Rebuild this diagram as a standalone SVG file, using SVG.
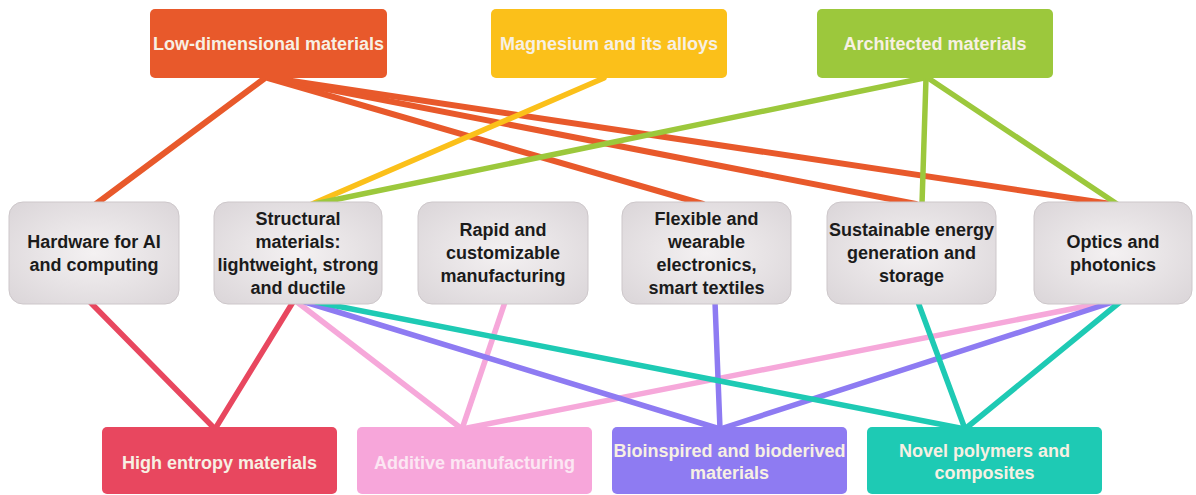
<svg xmlns="http://www.w3.org/2000/svg" width="1196" height="495" viewBox="0 0 1196 495">
  <defs>
    <radialGradient id="midFill" cx="50%" cy="50%" r="65%">
      <stop offset="0" stop-color="#f4f1f2"/>
      <stop offset="1" stop-color="#dcd7da"/>
    </radialGradient>
    <style>
      .link { fill: none; stroke-width: 5.5; stroke-linecap: round; }
      .orange { stroke: #e8592b; stroke-width: 6; }
      .yellow { stroke: #fbc01a; }
      .green { stroke: #9cc83c; }
      .red { stroke: #e8475f; }
      .pink { stroke: #f6a8da; }
      .purple { stroke: #8e7bf2; }
      .teal { stroke: #1ecab4; }
      .cat rect { rx: 5; ry: 5; }
      .cat text { font-family: "Liberation Sans", Arial, sans-serif; font-weight: bold; font-size: 18px; fill: #f7f0e3; text-anchor: middle; }
      .mid rect { rx: 14; ry: 14; fill: url(#midFill); stroke: #cdc7ca; stroke-width: 1; }
      .mid text { font-family: "Liberation Sans", Arial, sans-serif; font-weight: bold; font-size: 18px; fill: #1b1b1b; text-anchor: middle; }
    </style>
  </defs>

  <rect width="1196" height="495" fill="#ffffff"/>

  <!-- connectors, drawn beneath the boxes -->
  <g id="connectors">
    <!-- from Low-dimensional materials -->
    <line class="link orange" x1="265" y1="78" x2="96" y2="204"/>
    <line class="link orange" x1="268" y1="78" x2="703" y2="204"/>
    <line class="link orange" x1="270" y1="78" x2="916" y2="204"/>
    <line class="link orange" x1="272" y1="78" x2="1111" y2="204"/>
    <!-- from Magnesium and its alloys -->
    <line class="link yellow" x1="604" y1="78" x2="312" y2="204"/>
    <!-- from Architected materials -->
    <line class="link green" x1="924" y1="78" x2="314" y2="204"/>
    <line class="link green" x1="926" y1="78" x2="922" y2="204"/>
    <line class="link green" x1="928" y1="78" x2="1117" y2="204"/>
    <!-- down to High entropy materials -->
    <line class="link red" x1="90" y1="302" x2="215" y2="429"/>
    <line class="link red" x1="293" y1="302" x2="215" y2="429"/>
    <!-- down to Additive manufacturing -->
    <line class="link pink" x1="297" y1="302" x2="462" y2="429"/>
    <line class="link pink" x1="505" y1="302" x2="462" y2="429"/>
    <line class="link pink" x1="1107" y1="302" x2="462" y2="429"/>
    <!-- down to Bioinspired and bioderived materials -->
    <line class="link purple" x1="305" y1="302" x2="720" y2="429"/>
    <line class="link purple" x1="715" y1="302" x2="720" y2="429"/>
    <line class="link purple" x1="1113" y1="302" x2="720" y2="429"/>
    <!-- down to Novel polymers and composites -->
    <line class="link teal" x1="316" y1="302" x2="965" y2="429"/>
    <line class="link teal" x1="918" y1="302" x2="965" y2="429"/>
    <line class="link teal" x1="1120" y1="302" x2="965" y2="429"/>
  </g>

  <!-- top row: material classes -->
  <g id="low-dimensional" class="cat">
    <rect x="150" y="9" width="237" height="69" fill="#e8592b"/>
    <text x="268.5" y="50">Low-dimensional materials</text>
  </g>
  <g id="magnesium" class="cat">
    <rect x="491" y="9" width="236" height="69" fill="#fbc01a"/>
    <text x="609" y="50">Magnesium and its alloys</text>
  </g>
  <g id="architected" class="cat">
    <rect x="817" y="9" width="236" height="69" fill="#9cc83c"/>
    <text x="935" y="50">Architected materials</text>
  </g>

  <!-- middle row: application areas -->
  <g id="hardware" class="mid">
    <rect x="9" y="202" width="170" height="102"/>
    <text x="94" y="248">Hardware for AI</text>
    <text x="94" y="271">and computing</text>
  </g>
  <g id="structural" class="mid">
    <rect x="214" y="202" width="168" height="102"/>
    <text x="298" y="225">Structural</text>
    <text x="298" y="248">materials:</text>
    <text x="298" y="271">lightweight, strong</text>
    <text x="298" y="294">and ductile</text>
  </g>
  <g id="rapid" class="mid">
    <rect x="418" y="202" width="170" height="102"/>
    <text x="503" y="236">Rapid and</text>
    <text x="503" y="259">customizable</text>
    <text x="503" y="282">manufacturing</text>
  </g>
  <g id="flexible" class="mid">
    <rect x="622" y="202" width="169" height="102"/>
    <text x="706.5" y="225">Flexible and</text>
    <text x="706.5" y="248">wearable</text>
    <text x="706.5" y="271">electronics,</text>
    <text x="706.5" y="294">smart textiles</text>
  </g>
  <g id="sustainable" class="mid">
    <rect x="827" y="202" width="169" height="102"/>
    <text x="911.5" y="236">Sustainable energy</text>
    <text x="911.5" y="259">generation and</text>
    <text x="911.5" y="282">storage</text>
  </g>
  <g id="optics" class="mid">
    <rect x="1034" y="202" width="158" height="102"/>
    <text x="1113" y="248">Optics and</text>
    <text x="1113" y="271">photonics</text>
  </g>

  <!-- bottom row: material classes -->
  <g id="high-entropy" class="cat">
    <rect x="102" y="427" width="235" height="67" fill="#e8475f"/>
    <text x="219.5" y="469">High entropy materials</text>
  </g>
  <g id="additive" class="cat">
    <rect x="357" y="427" width="235" height="67" fill="#f7a6da"/>
    <text x="474.5" y="469" fill="#fce6f3" style="fill:#fce6f3">Additive manufacturing</text>
  </g>
  <g id="bioinspired" class="cat">
    <rect x="612" y="427" width="235" height="67" fill="#8e7bf2"/>
    <text x="729.5" y="457">Bioinspired and bioderived</text>
    <text x="729.5" y="479">materials</text>
  </g>
  <g id="novel-polymers" class="cat">
    <rect x="867" y="427" width="235" height="67" fill="#1ecab4"/>
    <text x="984.5" y="457">Novel polymers and</text>
    <text x="984.5" y="479">composites</text>
  </g>
</svg>
